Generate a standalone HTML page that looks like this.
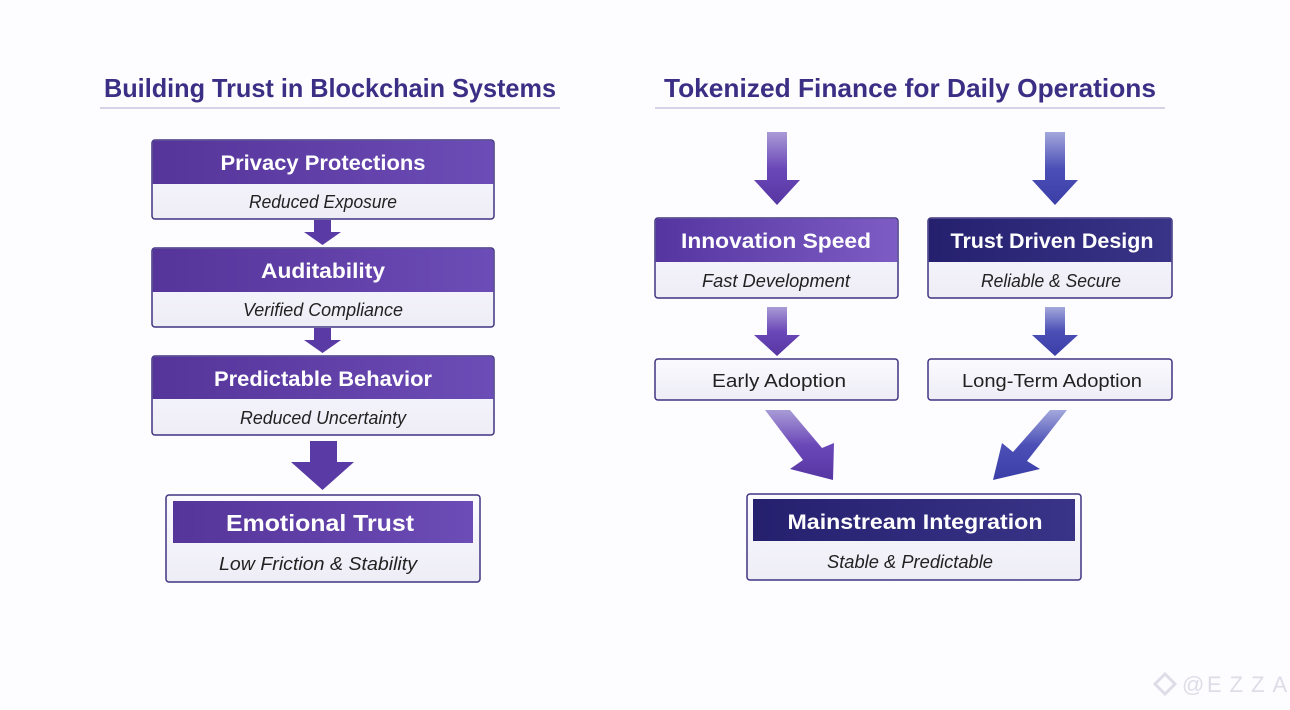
<!DOCTYPE html>
<html><head><meta charset="utf-8"><style>
html,body{margin:0;padding:0;background:#fdfcff;}
svg{display:block}
text{font-family:"Liberation Sans",sans-serif}
</style></head><body>
<svg width="1290" height="710" viewBox="0 0 1290 710" xmlns="http://www.w3.org/2000/svg">
<defs>
<linearGradient id="pH" x1="0" y1="0" x2="1" y2="0"><stop offset="0" stop-color="#553599"/><stop offset="1" stop-color="#6c4cb6"/></linearGradient>
<linearGradient id="iH" x1="0" y1="0" x2="1" y2="0"><stop offset="0" stop-color="#5535a0"/><stop offset="1" stop-color="#7d5cc4"/></linearGradient>
<linearGradient id="nH" x1="0" y1="0" x2="1" y2="0"><stop offset="0" stop-color="#25206e"/><stop offset="1" stop-color="#3a3488"/></linearGradient>
<linearGradient id="pA" x1="0" y1="0" x2="0" y2="1"><stop offset="0" stop-color="#a99bd6"/><stop offset="0.5" stop-color="#6b48b8"/><stop offset="1" stop-color="#5636a2"/></linearGradient>
<linearGradient id="bA" x1="0" y1="0" x2="0" y2="1"><stop offset="0" stop-color="#a3a8dc"/><stop offset="0.5" stop-color="#4b4fb6"/><stop offset="1" stop-color="#3a3ea6"/></linearGradient>
<linearGradient id="sw" x1="0" y1="0" x2="0" y2="1"><stop offset="0" stop-color="#fafaff"/><stop offset="1" stop-color="#eeedf6"/></linearGradient>
</defs>
<rect width="1290" height="710" fill="#fdfcff"/>

<!-- titles -->
<text x="330" y="97" text-anchor="middle" font-size="26" font-weight="bold" fill="#3b2e85" textLength="452" lengthAdjust="spacingAndGlyphs">Building Trust in Blockchain Systems</text>
<line x1="100" y1="108" x2="560" y2="108" stroke="#c9c4e0" stroke-width="1.5"/>
<text x="910" y="97" text-anchor="middle" font-size="26" font-weight="bold" fill="#3b2e85" textLength="492" lengthAdjust="spacingAndGlyphs">Tokenized Finance for Daily Operations</text>
<line x1="655" y1="108" x2="1165" y2="108" stroke="#c9c4e0" stroke-width="1.5"/>

<!-- left column -->
<g stroke="#3f3480" stroke-width="1.5">
<rect x="152" y="140" width="342" height="79" rx="3" fill="url(#sw)"/>
<rect x="152" y="248" width="342" height="79" rx="3" fill="url(#sw)"/>
<rect x="152" y="356" width="342" height="79" rx="3" fill="url(#sw)"/>
<rect x="166" y="495" width="314" height="87" rx="3" fill="url(#sw)"/>
</g>
<path d="M152.75 184 V143 Q152.75 140.75 155 140.75 H491 Q493.25 140.75 493.25 143 V184 Z" fill="url(#pH)"/>
<path d="M152.75 292 V251 Q152.75 248.75 155 248.75 H491 Q493.25 248.75 493.25 251 V292 Z" fill="url(#pH)"/>
<path d="M152.75 399 V359 Q152.75 356.75 155 356.75 H491 Q493.25 356.75 493.25 359 V399 Z" fill="url(#pH)"/>
<rect x="173" y="501" width="300" height="42" fill="url(#pH)"/>

<g fill="#fff" font-weight="bold" text-anchor="middle">
<text x="323" y="170" font-size="21" textLength="205" lengthAdjust="spacingAndGlyphs">Privacy Protections</text>
<text x="323" y="278" font-size="21" textLength="124" lengthAdjust="spacingAndGlyphs">Auditability</text>
<text x="323" y="386" font-size="21" textLength="218" lengthAdjust="spacingAndGlyphs">Predictable Behavior</text>
<text x="320" y="531" font-size="23" textLength="188" lengthAdjust="spacingAndGlyphs">Emotional Trust</text>
</g>
<g fill="#222" font-style="italic" text-anchor="middle" font-size="18">
<text x="323" y="208" textLength="148" lengthAdjust="spacingAndGlyphs">Reduced Exposure</text>
<text x="323" y="316" textLength="160" lengthAdjust="spacingAndGlyphs">Verified Compliance</text>
<text x="323" y="424" textLength="166" lengthAdjust="spacingAndGlyphs">Reduced Uncertainty</text>
<text x="318" y="570" textLength="198" lengthAdjust="spacingAndGlyphs">Low Friction &amp; Stability</text>
</g>
<!-- left arrows -->
<g fill="#5a3aa4">
<path d="M314 220 H331 V232 H341 L322.5 245 L304 232 H314 Z"/>
<path d="M314 328 H331 V340 H341 L322.5 353 L304 340 H314 Z"/>
<path d="M310 441 H337 V462 H354 L322.5 490 L291 462 H310 Z"/>
</g>

<!-- right column arrows -->
<path d="M767 132 H787 V180 H800 L777 205 L754 180 H767 Z" fill="url(#pA)"/>
<path d="M1045 132 H1065 V180 H1078 L1055 205 L1032 180 H1045 Z" fill="url(#bA)"/>
<path d="M767 307 H787 V335 H800 L777 356 L754 335 H767 Z" fill="url(#pA)"/>
<path d="M1045 307 H1065 V335 H1078 L1055 356 L1032 335 H1045 Z" fill="url(#bA)"/>
<path d="M765 410 H790 L822 448 L834 443 L833 480 L790 469 L803 460 Z" fill="url(#pA)"/>
<path d="M1067 410 H1050 L1013 452 L1002 443 L993 480 L1040 469 L1027 461 Z" fill="url(#bA)"/>

<!-- right boxes -->
<g stroke="#3f3480" stroke-width="1.5">
<rect x="655" y="218" width="243" height="80" rx="3" fill="url(#sw)"/>
<rect x="928" y="218" width="244" height="80" rx="3" fill="url(#sw)"/>
<rect x="655" y="359" width="243" height="41" rx="3" fill="url(#sw)"/>
<rect x="928" y="359" width="244" height="41" rx="3" fill="url(#sw)"/>
<rect x="747" y="494" width="334" height="86" rx="3" fill="url(#sw)"/>
</g>
<path d="M655.75 262 V221 Q655.75 218.75 658 218.75 H895 Q897.25 218.75 897.25 221 V262 Z" fill="url(#iH)"/>
<path d="M928.75 262 V221 Q928.75 218.75 931 218.75 H1169 Q1171.25 218.75 1171.25 221 V262 Z" fill="url(#nH)"/>
<rect x="753" y="499" width="322" height="42" fill="url(#nH)"/>

<g fill="#fff" font-weight="bold" text-anchor="middle">
<text x="776" y="248" font-size="21" textLength="190" lengthAdjust="spacingAndGlyphs">Innovation Speed</text>
<text x="1052" y="248" font-size="21" textLength="203" lengthAdjust="spacingAndGlyphs">Trust Driven Design</text>
<text x="915" y="529" font-size="21" textLength="255" lengthAdjust="spacingAndGlyphs">Mainstream Integration</text>
</g>
<g fill="#222" font-style="italic" text-anchor="middle" font-size="18">
<text x="776" y="287" textLength="148" lengthAdjust="spacingAndGlyphs">Fast Development</text>
<text x="1051" y="287" textLength="140" lengthAdjust="spacingAndGlyphs">Reliable &amp; Secure</text>
<text x="910" y="568" textLength="166" lengthAdjust="spacingAndGlyphs">Stable &amp; Predictable</text>
</g>
<g fill="#222" text-anchor="middle" font-size="18">
<text x="779" y="387" textLength="134" lengthAdjust="spacingAndGlyphs">Early Adoption</text>
<text x="1052" y="387" textLength="180" lengthAdjust="spacingAndGlyphs">Long-Term Adoption</text>
</g>

<!-- watermark -->
<g opacity="0.45" fill="#b9b6cc">
<path d="M1165 674 L1175 684 L1165 694 L1155 684 Z" fill="none" stroke="#b9b6cc" stroke-width="3"/>
<text x="1182" y="692" font-size="22" fill="#b9b6cc">@</text>
<text x="1207" y="692" font-size="22" fill="#b9b6cc" letter-spacing="8">EZZA</text>
</g>
</svg>
</body></html>
